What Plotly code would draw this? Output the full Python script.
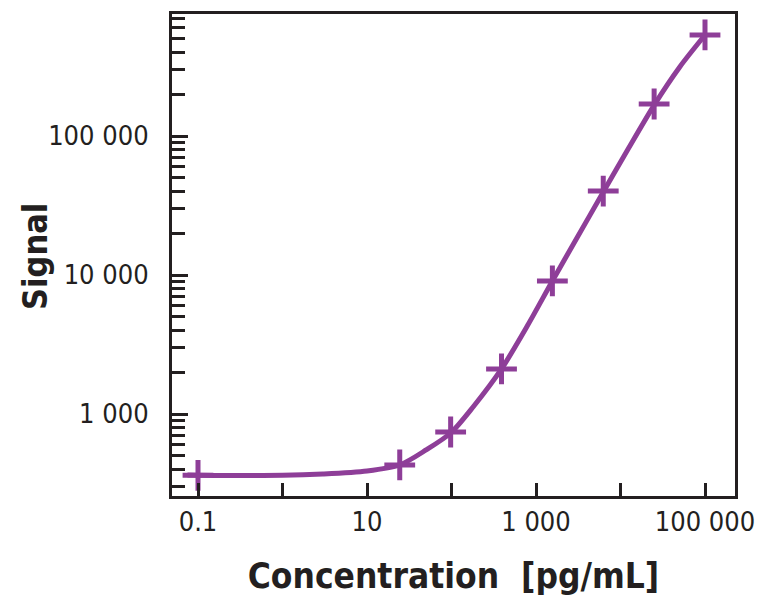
import plotly.graph_objects as go

# Measured standards (concentration pg/mL, signal)
conc = [0.1, 24.4, 97.7, 390.6, 1562.5, 6250, 25000, 100000]
signal = [362, 430, 742, 2110, 9060, 40200, 170000, 534000]

# Fitted curve
curve_conc = [0.075, 0.1, 1, 3, 10, 24.4, 50, 97.7, 180, 390.6, 800, 1562.5,
              3000, 6250, 12500, 25000, 50000, 100000]
curve_signal = [364, 363, 362, 370, 389, 430, 551, 730, 1123, 2110, 4365, 9060,
                18150, 39540, 82000, 167000, 313000, 533000]

x_tickvals = [0.1, 1, 10, 100, 1000, 10000, 100000]
x_ticktext = ["0.1", "", "10", "", "1 000", "", "100 000"]
y_tickvals = [1000, 10000, 100000]
y_ticktext = ["1 000", "10 000", "100 000"]
y_minor = [m * 10 ** e for e in (2, 3, 4, 5) for m in range(2, 10)]

purple = "#8E3E98"
ink = "#231F20"
font_name = "DejaVu Sans Condensed, Roboto Condensed, Roboto, sans-serif"

fig = go.Figure()
fig.add_trace(go.Scatter(
    x=curve_conc, y=curve_signal, mode="lines",
    line=dict(color=purple, width=5, shape="spline", smoothing=0.8),
    hoverinfo="skip", showlegend=False))
fig.add_trace(go.Scatter(
    x=conc, y=signal, mode="markers",
    marker=dict(symbol="cross-thin", size=22, color=purple,
                line=dict(color=purple, width=5)),
    showlegend=False))

fig.update_layout(
    width=757, height=598,
    margin=dict(l=172, r=22, t=14, b=102),
    paper_bgcolor="white", plot_bgcolor="white",
    font=dict(family=font_name, color=ink, size=27),
    xaxis=dict(
        type="log", range=[-1.3077, 5.355], automargin=False,
        tickvals=x_tickvals, ticktext=x_ticktext,
        ticks="inside", ticklen=13, tickwidth=3, tickcolor=ink,
        showline=True, linewidth=3, linecolor=ink, mirror=True,
        showgrid=False, zeroline=False,
        ticklabeloverflow="allow",
        tickfont=dict(family=font_name, size=27, color=ink),
        title=dict(text="Concentration\u00a0\u00a0[pg/mL]",
                   font=dict(family=font_name, size=35, color=ink,
                             weight="bold"), standoff=28),
    ),
    yaxis=dict(
        type="log", range=[2.410, 5.878], automargin=False,
        tickvals=y_tickvals, ticktext=y_ticktext,
        ticks="inside", ticklen=16, tickwidth=3, tickcolor=ink,
        minor=dict(tickvals=y_minor, ticks="inside", ticklen=13,
                   tickwidth=3, tickcolor=ink, showgrid=False),
        showline=True, linewidth=3, linecolor=ink, mirror=True,
        showgrid=False, zeroline=False,
        ticklabelstandoff=15,
        tickfont=dict(family=font_name, size=27, color=ink),
    ),
    annotations=[dict(
        text="Signal", xref="paper", yref="paper",
        x=-0.2433, y=0.496, xanchor="center", yanchor="middle",
        textangle=-90, showarrow=False,
        font=dict(family=font_name, size=34, color=ink, weight="bold"),
    )],
)

fig.write_html("out.html", config={"displayModeBar": False},
               post_script="document.body.style.margin='0';"
                           "document.body.style.overflow='hidden';")
